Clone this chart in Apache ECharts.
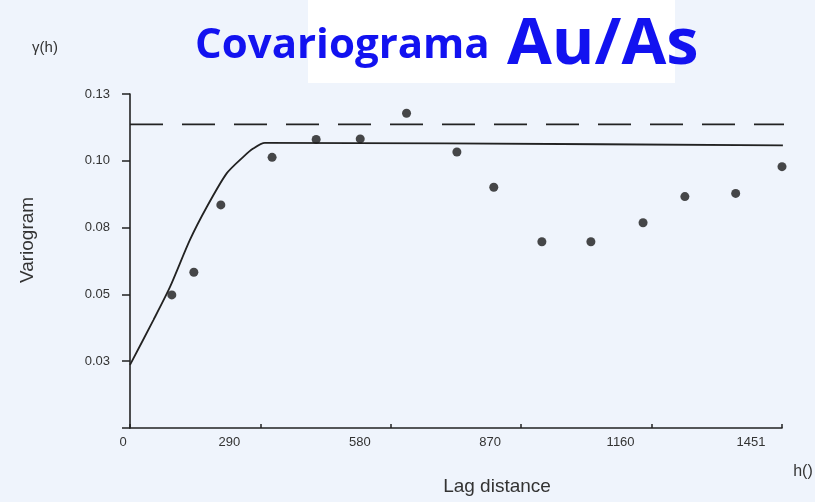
<!DOCTYPE html>
<html>
<head>
<meta charset="utf-8">
<script src="https://cdn.jsdelivr.net/npm/echarts@6/dist/echarts.min.js"></script>
<style>
html,body{margin:0;padding:0;background:#eff4fc;}
#c{width:815px;height:502px;}
</style>
</head>
<body>
<div id="c"></div>
<script>
// Data
const xTickValues = [0, 290, 580, 870, 1160, 1450];
const xTickLabels = ['0', '290', '580', '870', '1160', '1451'];
const yTickValues = [0.025, 0.05, 0.075, 0.1, 0.125];
const yTickLabels = ['0.03', '0.05', '0.08', '0.10', '0.13'];

// experimental variogram points [lag, gamma]
const lagDist = [93, 142, 202, 316, 414, 512, 615, 727, 809, 916, 1025, 1141, 1234, 1347, 1450];
const gammaVals = [0.0498, 0.0583, 0.0835, 0.1013, 0.1080, 0.1082, 0.1178, 0.1033, 0.0901, 0.0697, 0.0697, 0.0768, 0.0866, 0.0878, 0.0978];

// fitted model curve
const modelLag = [0, 52, 89, 133, 171, 215, 252, 274, 300, 700, 1452];
const modelGamma = [0.0236, 0.0404, 0.0528, 0.0703, 0.0828, 0.0953, 0.1015, 0.1046, 0.1067, 0.1065, 0.1058];

// dashed sill line
const sillLag = [0, 1460];
const sillGamma = [0.1136, 0.1136];

const chart = echarts.init(document.getElementById('c'), null, {renderer: 'canvas'});
const zip = (a, b) => a.map((v, i) => [v, b[i]]);
const ink = '#222';

chart.setOption({
  backgroundColor: '#eff4fc',
  animation: false,
  grid: {left: 130, right: 33, top: 94, bottom: 74, containLabel: false},
  xAxis: {
    type: 'value', min: 0, max: 1450, interval: 290,
    axisLine: {show: true, onZero: false, lineStyle: {color: ink, width: 1.6}},
    axisTick: {show: true, inside: true, length: 4, lineStyle: {color: ink, width: 1.5}},
    splitLine: {show: false},
    axisLabel: {
      margin: 8,
      color: '#333',
      fontFamily: 'Liberation Sans, Arial',
      fontSize: 13,
      formatter: function (v) {
        const i = xTickValues.indexOf(v);
        if (i < 0) return '';
        return i === 0 ? '{z|' + xTickLabels[i] + '}' : '{s|' + xTickLabels[i] + '}';
      },
      rich: {
        z: {padding: [0, 14, 0, 0], fontSize: 13, color: '#333', fontFamily: 'Liberation Sans, Arial'},
        s: {padding: [0, 62, 0, 0], fontSize: 13, color: '#333', fontFamily: 'Liberation Sans, Arial'}
      }
    }
  },
  yAxis: {
    type: 'value', min: 0, max: 0.125, interval: 0.025,
    axisLine: {show: true, onZero: false, lineStyle: {color: ink, width: 1.6}},
    axisTick: {show: true, inside: false, length: 8, lineStyle: {color: ink, width: 1.5}},
    splitLine: {show: false},
    axisLabel: {
      margin: 20,
      color: '#333',
      fontFamily: 'Liberation Sans, Arial',
      fontSize: 13,
      formatter: function (v) {
        for (let i = 0; i < yTickValues.length; i++) {
          if (Math.abs(yTickValues[i] - v) < 1e-9) return yTickLabels[i];
        }
        return '';
      }
    }
  },
  series: [
    {
      type: 'line', data: zip(sillLag, sillGamma), symbol: 'none', silent: true,
      lineStyle: {color: ink, width: 1.8, type: [33, 19]}, z: 2
    },
    {
      type: 'line', data: zip(modelLag, modelGamma), symbol: 'none', silent: true,
      smooth: 0.25,
      lineStyle: {color: ink, width: 1.8}, z: 3
    },
    {
      type: 'scatter', data: zip(lagDist, gammaVals), symbol: 'circle', symbolSize: 9,
      itemStyle: {color: '#1a1a1a'}, z: 4
    }
  ],
  graphic: [
    {type: 'rect', left: 308, top: 0, shape: {width: 367, height: 83}, style: {fill: '#ffffff'}, z: -10, silent: true},
    {type: 'text', x: 195, y: 46, style: {text: 'Covariograma', font: 'bold 42px "Open Sans", "Noto Sans", sans-serif', fill: '#1212f0', textVerticalAlign: 'middle', textAlign: 'left'}},
    {type: 'text', x: 507, y: 45, style: {text: 'Au/As', font: 'bold 65px "Open Sans", "Noto Sans", sans-serif', fill: '#1212f0', textVerticalAlign: 'middle', textAlign: 'left'}},
    {type: 'text', x: 45, y: 48, style: {text: 'γ(h)', font: '15px "Liberation Sans", Arial, sans-serif', fill: '#333', textAlign: 'center', textVerticalAlign: 'middle'}},
    {type: 'text', x: 28, y: 240, rotation: Math.PI / 2, style: {text: 'Variogram', font: '19px "Liberation Sans", Arial, sans-serif', fill: '#333', textAlign: 'center', textVerticalAlign: 'middle'}},
    {type: 'text', x: 497, y: 487, style: {text: 'Lag distance', font: '19px "Liberation Sans", Arial, sans-serif', fill: '#333', textAlign: 'center', textVerticalAlign: 'middle'}},
    {type: 'text', x: 803, y: 472, style: {text: 'h()', font: '16px "Liberation Sans", Arial, sans-serif', fill: '#333', textAlign: 'center', textVerticalAlign: 'middle'}}
  ]
});
</script>
</body>
</html>
